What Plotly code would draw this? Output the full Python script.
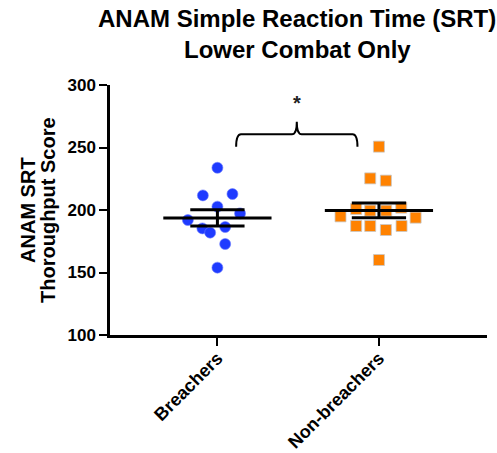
import numpy as np
import plotly.graph_objects as go

# ---- data ----
categories = ["Breachers", "Non-breachers"]
breachers = [233.8, 211.7, 212.8, 202.7, 197.3, 192.0, 185.3, 181.9, 186.4, 172.8, 153.9]
breachers_jitter = [0, -0.09, 0.093, 0, 0.14, -0.183, -0.093, -0.045, 0.048, 0.048, 0]
nonbreachers = [250.7, 225.3, 223.5, 200.8, 201.9, 199.5, 199.5, 194.9, 193.9, 187.2, 187.2, 184.0, 187.2, 160.0]
nonbreachers_jitter = [0, -0.054, 0.043, -0.141, 0.138, -0.054, 0.045, -0.238, 0.227, -0.141, -0.054, 0.043, 0.14, 0]
y_ticks = [100, 150, 200, 250, 300]
title_lines = ["ANAM Simple Reaction Time (SRT)", "Lower Combat Only"]
ytitle_lines = ["ANAM SRT", "Thoroughput Score"]

FONT = "Liberation Sans, Arial, sans-serif"

fig = go.Figure()

groups = [
    (1, breachers, breachers_jitter, dict(symbol="circle", color="#1F3BFF", size=11,
                                         line=dict(width=0.6, color="#6F80FF"))),
    (2, nonbreachers, nonbreachers_jitter, dict(symbol="square", color="#FF8200", size=11,
                                               line=dict(width=0.8, color="#C8C8C8"))),
]

for pos, vals, jit, mk in groups:
    v = np.array(vals)
    fig.add_trace(go.Scatter(x=pos + np.array(jit), y=v, mode="markers", marker=mk,
                             showlegend=False, hoverinfo="y"))
    mean = v.mean()
    sem = v.std(ddof=1) / np.sqrt(len(v))
    fig.add_trace(go.Scatter(x=[pos - 0.335, pos + 0.335], y=[mean, mean], mode="lines",
                             line=dict(color="black", width=3), showlegend=False, hoverinfo="skip"))
    for yy in (mean - sem, mean + sem):
        fig.add_trace(go.Scatter(x=[pos - 0.168, pos + 0.168], y=[yy, yy], mode="lines",
                                 line=dict(color="black", width=3), showlegend=False, hoverinfo="skip"))
    fig.add_trace(go.Scatter(x=[pos, pos], y=[mean - sem, mean + sem], mode="lines",
                             line=dict(color="black", width=3), showlegend=False, hoverinfo="skip"))

# significance brace
x0, x1 = 1.116, 1.867
xm = (x0 + x1) / 2
yb, yh, yt = 250.6, 260.6, 270.6
dx = 0.03
path = (f"M {x0},{yb} Q {x0},{yh} {x0+dx},{yh} L {xm-dx},{yh} Q {xm},{yh} {xm},{yt} "
        f"Q {xm},{yh} {xm+dx},{yh} L {x1-dx},{yh} Q {x1},{yh} {x1},{yb}")
fig.add_shape(type="path", path=path, xref="x", yref="y", line=dict(color="black", width=2))
fig.add_annotation(x=xm, y=286, text="*", showarrow=False, xref="x", yref="y",
                   font=dict(family=FONT, size=20, color="#222222", weight="bold"))

# title (two lines, placed in pixels of the page)
W, H = 497, 453
for txt, yc in zip(title_lines, [18, 49]):
    fig.add_annotation(text=txt, x=297 / W, y=1 - yc / H, xref="paper", yref="paper",
                       xanchor="center", yanchor="middle", showarrow=False,
                       font=dict(family=FONT, size=24, color="black", weight="bold"))
# y-axis title (two rotated lines)
for txt, xc in zip(ytitle_lines, [28, 48]):
    fig.add_annotation(text=txt, x=xc / W, y=1 - 210 / H, xref="paper", yref="paper",
                       xanchor="center", yanchor="middle", showarrow=False, textangle=-90,
                       font=dict(family=FONT, size=20, color="black", weight="bold"))

# convert annotation paper coords (defined on page) into plot-area paper coords
L, R, T, B = 110, 10.3, 85, 118
for a in fig.layout.annotations:
    if a.xref == "paper":
        px = a.x * W
        py = (1 - a.y) * H
        a.x = (px - L) / (W - L - R)
        a.y = 1 - (py - T) / (H - T - B)

fig.update_layout(
    width=W, height=H,
    margin=dict(l=L, r=R, t=T, b=B, autoexpand=False),
    paper_bgcolor="white", plot_bgcolor="white",
    xaxis=dict(range=[0.335, 2.669], tickvals=[1, 2], ticktext=categories, automargin=False,
               tickangle=-45, ticks="outside", ticklen=8, tickwidth=2, tickcolor="black",
               ticklabelstandoff=-5,
               showline=True, linecolor="black", linewidth=2.5, showgrid=False, zeroline=False,
               tickfont=dict(family=FONT, size=18, color="black", weight="bold")),
    yaxis=dict(range=[100, 300], tickvals=y_ticks, ticks="outside", ticklen=8, tickwidth=2,
               automargin=False,
               tickcolor="black", showline=True, linecolor="black", linewidth=2.5,
               showgrid=False, zeroline=False,
               tickfont=dict(family=FONT, size=17, color="black", weight="bold")),
)

fig.write_html("out.html")
